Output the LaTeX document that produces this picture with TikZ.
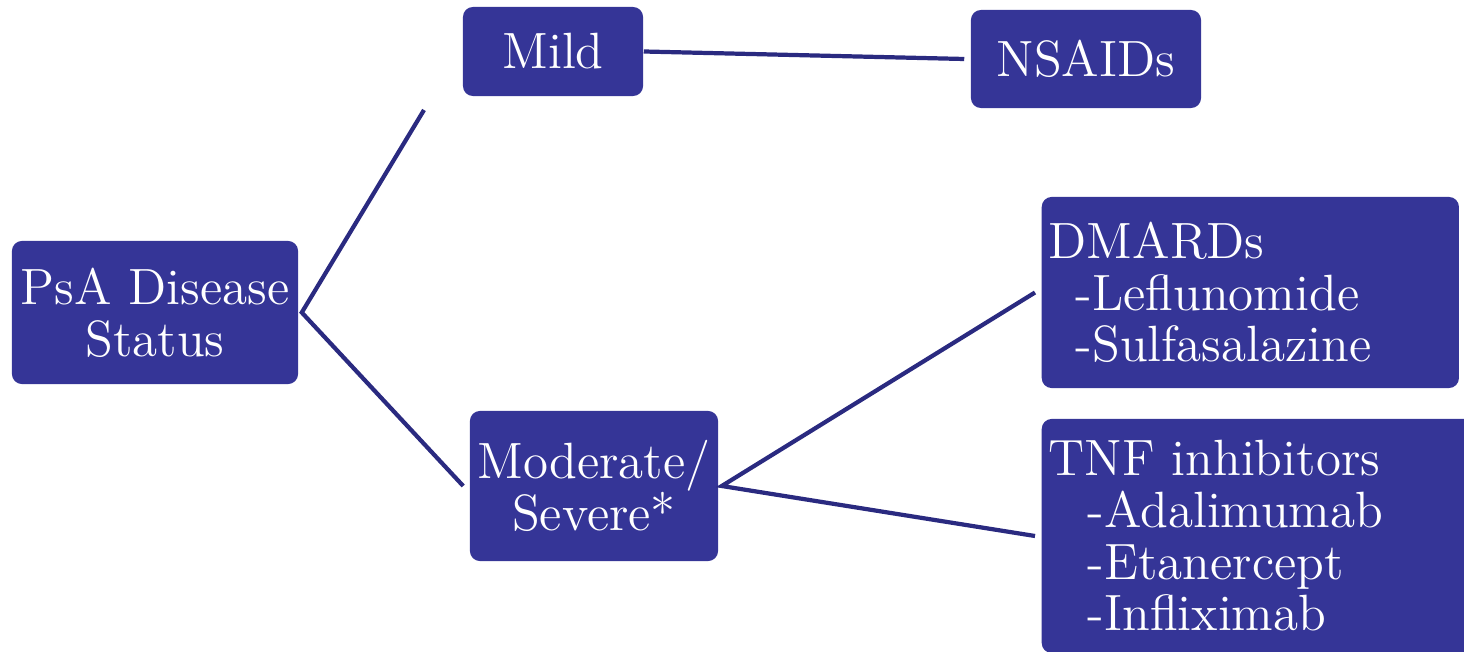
\documentclass[tikz,border=0pt]{standalone}
\usepackage{tikz}
\definecolor{boxblue}{RGB}{53,53,151}
\definecolor{linkblue}{RGB}{42,42,128}

\begin{document}
\begin{tikzpicture}[x=0.01cm,y=-0.01cm,
  box/.style={fill=boxblue,text=white,rounded corners=0.1cm,inner sep=0pt,
    align=center,font=\fontsize{14.5pt}{14.7pt}\selectfont},
  listbox/.style={box,align=left,inner xsep=0.07cm,anchor=west},
  link/.style={draw=linkblue,line width=1.2pt}]
\clip (0,0) rectangle (1464,652);

\node[box,minimum width=2.86cm,minimum height=1.43cm] (psa) at (155,312.5) {PsA Disease\\Status};
\node[box,minimum width=1.80cm,minimum height=0.89cm] (mild) at (553,51.5) {Mild};
\node[box,minimum width=2.30cm,minimum height=0.98cm] (nsaids) at (1086,59) {NSAIDs};
\node[box,minimum width=2.48cm,minimum height=1.50cm] (mod) at (594,486) {Moderate/\\Severe*};

\node[listbox,text width=4.03cm,minimum height=1.91cm] (dmards) at (1041,292.5)
  {DMARDs\\\hspace*{0.27cm}-Leflunomide\\\hspace*{0.27cm}-Sulfasalazine};
\node[listbox,text width=4.30cm,minimum height=2.34cm] (tnf) at (1041,536)
  {TNF inhibitors\\\hspace*{0.39cm}-Adalimumab\\\hspace*{0.39cm}-Etanercept\\\hspace*{0.39cm}-Infliximab};

% connectors
\coordinate (mildend) at (424,110);
\draw[link] (mildend) -- ([xshift=0.03cm]psa.east) -- ([xshift=-0.06cm]mod.west);
\draw[link] (mild.east) -- ([xshift=-0.06cm]nsaids.west);
\draw[link] ([xshift=-0.06cm]dmards.west) -- ([xshift=0.03cm]mod.east) -- ([xshift=-0.06cm]tnf.west);
\end{tikzpicture}
\end{document}
